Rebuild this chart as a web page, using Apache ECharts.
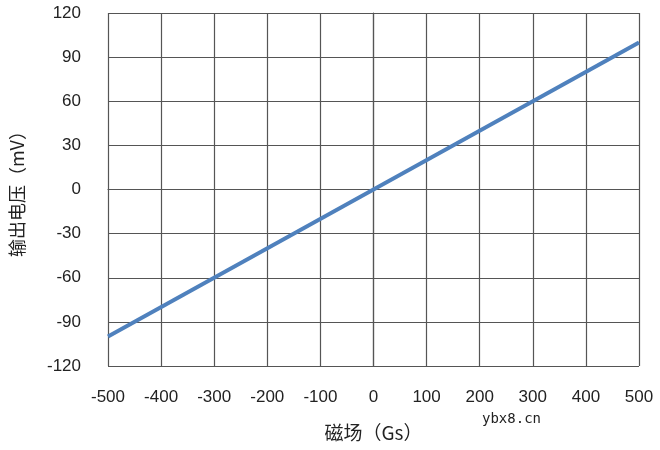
<!DOCTYPE html>
<html>
<head>
<meta charset="utf-8">
<script src="https://cdn.jsdelivr.net/npm/echarts@6/dist/echarts.min.js"></script>
<style>html,body{margin:0;padding:0;background:#fff}#c{width:660px;height:450px}</style>
</head>
<body>
<div id="c"></div>
<script>
var fieldGs = [-500, 500];
var outputMv = [-100, 100];
var xTitle = '磁场（Gs）';
var yTitle = '输出电压（mV）';
var watermark = 'ybx8.cn';

var chart = echarts.init(document.getElementById('c'));
var pts = fieldGs.map(function (x, i) { return [x, outputMv[i]]; });
chart.setOption({
  animation: false,
  grid: { left: 108, right: 21, top: 13, bottom: 84 },
  xAxis: {
    type: 'value', min: -500, max: 500, interval: 100,
    name: xTitle, nameLocation: 'middle', nameGap: 57,
    nameTextStyle: { fontSize: 19, color: '#222', fontFamily: 'Noto Sans CJK SC, Liberation Sans' },
    axisLine: { show: true, lineStyle: { color: '#555', width: 1.2 } },
    axisTick: { show: false },
    splitLine: { show: true, lineStyle: { color: '#555', width: 1.2 } },
    axisLabel: { fontSize: 17, color: '#222', margin: 23, fontFamily: 'Liberation Sans' }
  },
  yAxis: {
    type: 'value', min: -120, max: 120, interval: 30,
    name: yTitle, nameLocation: 'middle', nameGap: 82, nameRotate: 90,
    nameTextStyle: { fontSize: 18, color: '#222', fontFamily: 'Noto Sans CJK SC, Liberation Sans' },
    axisLine: { show: true, lineStyle: { color: '#555', width: 1.2 } },
    axisTick: { show: false },
    splitLine: { show: true, lineStyle: { color: '#555', width: 1.2 } },
    axisLabel: { fontSize: 17, color: '#222', margin: 27, fontFamily: 'Liberation Sans' }
  },
  graphic: [
    { type: 'text', left: 482, top: 412, style: { text: watermark, fontSize: 14, fill: '#222', fontFamily: 'DejaVu Sans Mono' } }
  ],
  series: [{
    type: 'line', data: pts, showSymbol: false,
    lineStyle: { color: '#4f81bd', width: 4 }
  }]
});
</script>
</body>
</html>
